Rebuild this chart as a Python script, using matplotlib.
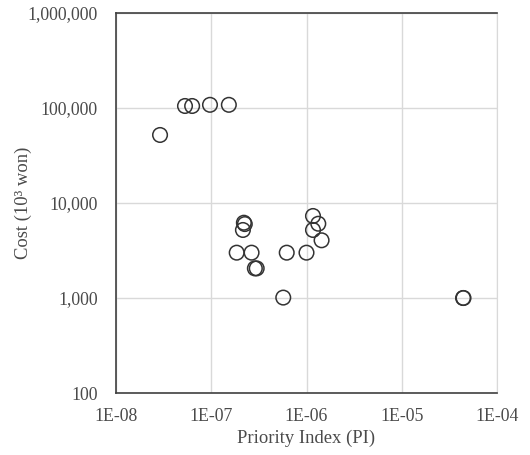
import matplotlib.pyplot as plt
from matplotlib.ticker import FixedLocator, FuncFormatter, NullLocator

# Data
pi = [2.9e-8, 5.3e-8, 6.3e-8, 9.7e-8, 1.53e-7,
      2.2e-7, 2.25e-7, 2.15e-7, 1.85e-7, 2.65e-7, 2.87e-7, 3.0e-7,
      6.2e-7, 5.7e-7, 1.0e-6, 1.17e-6, 1.33e-6, 1.17e-6, 1.44e-6,
      4.4e-5, 4.45e-5]
cost = [52000, 105000, 105000, 108000, 108000,
        6200, 6000, 5200, 3000, 3000, 2050, 2050,
        3000, 1010, 3000, 7300, 6050, 5200, 4050,
        1000, 1000]

xticks = [1e-8, 1e-7, 1e-6, 1e-5, 1e-4]
xlabels = ['1E-08', '1E-07', '1E-06', '1E-05', '1E-04']
yticks = [100, 1000, 10000, 100000, 1000000]

plt.rcParams['font.family'] = ['Liberation Serif', 'DejaVu Serif']

fig = plt.figure(figsize=(5.3, 4.55), dpi=100)
ax = fig.add_axes([116/530, 1 - 393/455, (497-116)/530, (393-13)/455])

ax.scatter(pi, cost, s=110, facecolors='none', edgecolors='#333333',
           linewidths=1.1, zorder=3)

ax.set_xscale('log')
ax.set_yscale('log')
ax.set_xlim(1e-8, 1e-4)
ax.set_ylim(100, 1e6)
ax.xaxis.set_major_locator(FixedLocator(xticks))
ax.xaxis.set_minor_locator(NullLocator())
ax.yaxis.set_major_locator(FixedLocator(yticks))
ax.yaxis.set_minor_locator(NullLocator())
ax.set_xticklabels(xlabels)
ax.yaxis.set_major_formatter(FuncFormatter(lambda v, p: f'{int(v):,}'))
ax.tick_params(length=0, labelsize=12.8, colors='#4a4a4a')
ax.tick_params(axis='y', pad=13)
ax.tick_params(axis='x', pad=11)

ax.grid(True, color='#d9d9d9', lw=1)
ax.set_axisbelow(True)
for s in ['left', 'bottom', 'top']:
    ax.spines[s].set_color('#404040')
    ax.spines[s].set_linewidth(1.2)
ax.spines['right'].set_color('#d9d9d9')

ax.set_xlabel('Priority Index (PI)', fontsize=13.4, color='#4a4a4a')
ax.set_ylabel('Cost (10³ won)', fontsize=13.4, color='#4a4a4a')
ax.xaxis.set_label_coords(0.5, -0.097)
ax.yaxis.set_label_coords(-0.22, 0.5)

fig.savefig('out.png', dpi=100)
